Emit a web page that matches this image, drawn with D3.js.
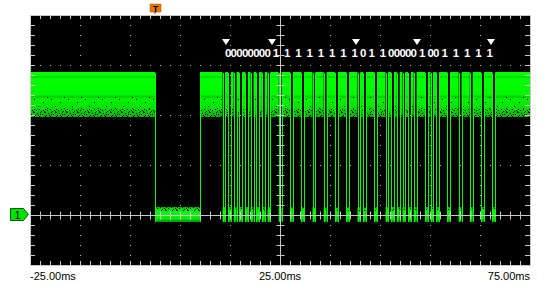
<!DOCTYPE html>
<html>
<head>
<meta charset="utf-8">
<script src="https://cdn.jsdelivr.net/npm/d3@7"></script>
<style>
  body { margin: 0; background: #fff; }
  svg { display: block; }
</style>
</head>
<body>
<div id="container"></div>
<script>
/* CONSTANTS AND GLOBALS */
const width = 560,
  height = 285,
  plot = { left: 30, right: 530, top: 15, bottom: 265 };

/* DATA (time in ms, level in divisions above ground) */
const tickValues = [-25, 25, 75];
const tickLabels = ["-25.00ms", "25.00ms", "75.00ms"];
const triggerTime = 0;
const leaderLow = [0, 9.0];            // long low start / end
const pulseStarts = [13.5, 14.6, 15.74, 16.86, 18.0, 19.12, 20.24, 21.38,
  22.5, 24.74, 27.0, 29.24, 31.5, 33.74, 36.0, 38.24,
  40.5, 41.6, 43.86, 46.1, 47.24, 48.36, 49.5, 50.6,
  51.74, 54.0, 55.1, 56.24, 58.48, 60.72, 62.96, 65.2, 67.46];
const pulseWidth = 0.58;
const bitLabels = ["0","0","0","0","0","0","0","0",
  "1","1","1","1","1","1","1","1",
  "0","1","1","0","0","0","0","0",
  "1","0","0","1","1","1","1","1"];
const markerTimes = [14.2, 23.4, 40.2, 52.4, 67.2];
const highBand = [2.86, 1.96];  // top / bottom of noisy high level
const lowBand = [0.16, -0.14];  // top / bottom of noisy low level

/* SCALES */
const x = d3.scaleLinear().domain([-25, 75]).range([plot.left, plot.right]);
const y = d3.scaleLinear().domain([-1, 4]).range([plot.bottom, plot.top]);

const svg = d3.select("#container").append("svg")
  .attr("width", width)
  .attr("height", height);

const defs = svg.append("defs");
const grad = defs.append("linearGradient")
  .attr("id", "hiGrad").attr("x1", 0).attr("x2", 0).attr("y1", 0).attr("y2", 1);
[[0, "#00ff00"], [0.08, "#00ff00"], [0.11, "#00cc00"], [0.14, "#00ff00"],
 [0.5, "#00f800"], [0.55, "#00cc00"], [0.6, "#00f400"], [0.8, "#00e000"],
 [1, "#00b000"]]
  .forEach(s => grad.append("stop").attr("offset", s[0]).attr("stop-color", s[1]));

const loGrad = defs.append("linearGradient")
  .attr("id", "loGrad").attr("x1", 0).attr("x2", 0).attr("y1", 0).attr("y2", 1);
[[0, "#00b000"], [0.2, "#00f000"], [0.5, "#00ff00"], [0.8, "#00e000"], [1, "#009000"]]
  .forEach(s => loGrad.append("stop").attr("offset", s[0]).attr("stop-color", s[1]));

// speckle for the ragged lower edge of the high level (sparse and dense)
const speckSparse = defs.append("pattern").attr("id", "speckSparse")
  .attr("patternUnits", "userSpaceOnUse").attr("width", 17).attr("height", 11);
[[0, 0], [9, 3], [4, 7], [13, 9]]
  .forEach(p => speckSparse.append("rect").attr("x", p[0]).attr("y", p[1])
    .attr("width", 1).attr("height", 1).attr("fill", "#000"));
const speckDense = defs.append("pattern").attr("id", "speckDense")
  .attr("patternUnits", "userSpaceOnUse").attr("width", 11).attr("height", 7);
[[0, 0], [1, 0], [4, 1], [7, 0], [9, 2], [2, 3], [5, 3], [6, 4], [10, 5],
 [3, 5], [0, 6], [8, 6], [1, 4], [7, 2]]
  .forEach(p => speckDense.append("rect").attr("x", p[0]).attr("y", p[1])
    .attr("width", 1).attr("height", 1).attr("fill", "#000"));

// plot background
svg.append("rect")
  .attr("x", plot.left).attr("y", plot.top)
  .attr("width", plot.right - plot.left).attr("height", plot.bottom - plot.top)
  .attr("fill", "#000");

/* GRID DOTS (under the trace) */
const minorT = d3.range(-25, 75.01, 2);
const minorV = d3.range(-1, 4.01, 0.2);
const dotG = svg.append("g").attr("fill", "#b8b8b8");
[-15, -5, 5, 15, 35, 45, 55, 65].forEach(t => {
  dotG.selectAll(null).data(minorV.slice(1, -1)).join("rect")
    .attr("x", Math.round(x(t))).attr("y", d => Math.round(y(d)))
    .attr("width", 1).attr("height", 1);
});
[1, 2, 3].forEach(v => {
  dotG.selectAll(null).data(minorT.slice(1, -1)).join("rect")
    .attr("x", d => Math.round(x(d))).attr("y", Math.round(y(v)))
    .attr("width", 1).attr("height", 1);
});

/* TRACE */
const highSegs = [[-25, leaderLow[0]], [leaderLow[1], pulseStarts[0]]];
pulseStarts.forEach((p, i) => {
  const next = i < pulseStarts.length - 1 ? pulseStarts[i + 1] : 75;
  highSegs.push([p + pulseWidth, next]);
});
const lowSegs = [leaderLow].concat(pulseStarts.map(p => [p, p + pulseWidth]));
const edges = [leaderLow[0], leaderLow[1]];
pulseStarts.forEach(p => edges.push(p, p + pulseWidth));

const trace = svg.append("g");
const hiTop = y(highBand[0]), hiBot = y(highBand[1]);
trace.selectAll(".hi").data(highSegs).join("rect")
  .attr("class", "hi")
  .attr("x", d => x(d[0])).attr("width", d => x(d[1]) - x(d[0]))
  .attr("y", hiTop).attr("height", hiBot - hiTop)
  .attr("fill", "url(#hiGrad)");
trace.selectAll(".sp1").data(highSegs).join("rect")
  .attr("class", "sp1")
  .attr("x", d => x(d[0])).attr("width", d => x(d[1]) - x(d[0]))
  .attr("y", hiBot - 20).attr("height", 12)
  .attr("fill", "url(#speckSparse)");
trace.selectAll(".sp2").data(highSegs).join("rect")
  .attr("class", "sp2")
  .attr("x", d => x(d[0])).attr("width", d => x(d[1]) - x(d[0]))
  .attr("y", hiBot - 8).attr("height", 8)
  .attr("fill", "url(#speckDense)");
trace.selectAll(".lo").data(lowSegs).join("rect")
  .attr("class", "lo")
  .attr("x", d => x(d[0])).attr("width", d => Math.max(2, x(d[1]) - x(d[0])))
  .attr("y", y(lowBand[0])).attr("height", y(lowBand[1]) - y(lowBand[0]))
  .attr("fill", "url(#loGrad)");
trace.selectAll(".lsp").data(lowSegs).join("rect")
  .attr("class", "lsp")
  .attr("x", d => x(d[0])).attr("width", d => Math.max(2, x(d[1]) - x(d[0])))
  .attr("y", y(lowBand[0])).attr("height", 4)
  .attr("fill", "url(#speckDense)");
trace.selectAll(".edge").data(edges).join("line")
  .attr("class", "edge")
  .attr("x1", d => Math.round(x(d)) + 0.5).attr("x2", d => Math.round(x(d)) + 0.5)
  .attr("y1", hiTop + 1).attr("y2", y(lowBand[1]))
  .attr("stroke", "#00ff00").attr("stroke-width", 1);

/* CENTER CROSS (over the trace) */
const cross = svg.append("g").attr("stroke", "#c8c8c8").attr("stroke-width", 1);
const cx = Math.round(x(25)) + 0.5, cy = Math.round(y(0)) + 0.5;
cross.append("line").attr("x1", cx).attr("x2", cx).attr("y1", plot.top).attr("y2", plot.bottom);
cross.append("line").attr("x1", plot.left).attr("x2", plot.right).attr("y1", cy).attr("y2", cy);
cross.selectAll(null).data(minorV).join("line")
  .attr("x1", cx - 4).attr("x2", cx + 4)
  .attr("y1", d => Math.round(y(d)) + 0.5).attr("y2", d => Math.round(y(d)) + 0.5);
cross.selectAll(null).data(minorT).join("line")
  .attr("y1", cy - 4).attr("y2", cy + 4)
  .attr("x1", d => Math.round(x(d)) + 0.5).attr("x2", d => Math.round(x(d)) + 0.5);

/* EDGE TICKS + FRAME via d3 axes */
const edgeStyle = g => {
  g.selectAll("path.domain").attr("stroke", "#c8c8c8");
  g.selectAll(".tick line").attr("stroke", "#c8c8c8");
  g.selectAll(".tick text").remove();
};
svg.append("g").attr("transform", `translate(0,${plot.top})`)
  .call(d3.axisTop(x).tickValues(minorT).tickSize(-4).tickSizeOuter(0).tickFormat(""))
  .call(edgeStyle);
svg.append("g").attr("transform", `translate(0,${plot.bottom})`)
  .call(d3.axisBottom(x).tickValues(minorT).tickSize(-4).tickSizeOuter(0).tickFormat(""))
  .call(edgeStyle);
svg.append("g").attr("transform", `translate(${plot.left},0)`)
  .call(d3.axisLeft(y).tickValues(minorV).tickSize(-5).tickSizeOuter(0).tickFormat(""))
  .call(edgeStyle);
svg.append("g").attr("transform", `translate(${plot.right},0)`)
  .call(d3.axisRight(y).tickValues(minorV).tickSize(-5).tickSizeOuter(0).tickFormat(""))
  .call(edgeStyle);

/* DECODE LABELS */
const bitPos = bitLabels.map((b, i) => ((pulseStarts[i] + pulseWidth) + pulseStarts[i + 1]) / 2 + 0.3);
svg.append("g").selectAll("text").data(bitLabels).join("text")
  .attr("x", (d, i) => x(bitPos[i]))
  .attr("y", 57)
  .attr("text-anchor", "middle")
  .attr("font-family", "Liberation Sans, Arial, sans-serif")
  .attr("font-size", 11.5)
  .attr("font-weight", "bold")
  .attr("fill", "#fff")
  .text(d => d);
svg.append("g").selectAll("path").data(markerTimes).join("path")
  .attr("transform", d => `translate(${x(d)},39)`)
  .attr("d", "M-4,0 L4,0 L0,6 Z")
  .attr("fill", "#fff");

/* TIME LABELS */
svg.append("g").selectAll("text").data(tickValues).join("text")
  .attr("x", d => x(d))
  .attr("y", 280)
  .attr("text-anchor", (d, i) => i === 0 ? "start" : i === tickValues.length - 1 ? "end" : "middle")
  .attr("font-family", "Liberation Sans, Arial, sans-serif")
  .attr("font-size", 11)
  .attr("fill", "#000")
  .text((d, i) => tickLabels[i]);

/* TRIGGER MARKER */
const tx = Math.round(x(triggerTime));
const trig = svg.append("g").attr("transform", `translate(${tx},0)`);
trig.append("path")
  .attr("d", "M-5,4 L6,4 L6,12 L1,12 L0,14 L-1,12 L-5,12 Z")
  .attr("fill", "#e8780c").attr("stroke", "#b05a00").attr("stroke-width", 0.6);
trig.append("text")
  .attr("x", 0.5).attr("y", 11.5).attr("text-anchor", "middle")
  .attr("font-family", "Liberation Sans, Arial, sans-serif")
  .attr("font-size", 9).attr("font-weight", "bold").attr("fill", "#000")
  .text("T");

/* CHANNEL 1 MARKER */
const gy = Math.round(y(0));
const ch = svg.append("g").attr("transform", `translate(0,${gy})`);
ch.append("path")
  .attr("d", "M10.5,-6.5 L23.5,-6.5 L28.5,-0.5 L23.5,5.5 L10.5,5.5 Z")
  .attr("fill", "#00e000").attr("stroke", "#006000").attr("stroke-width", 1);
ch.append("text")
  .attr("x", 17.5).attr("y", 3.5).attr("text-anchor", "middle")
  .attr("font-family", "Liberation Sans, Arial, sans-serif")
  .attr("font-size", 10).attr("fill", "#000")
  .text("1");
</script>
</body>
</html>
